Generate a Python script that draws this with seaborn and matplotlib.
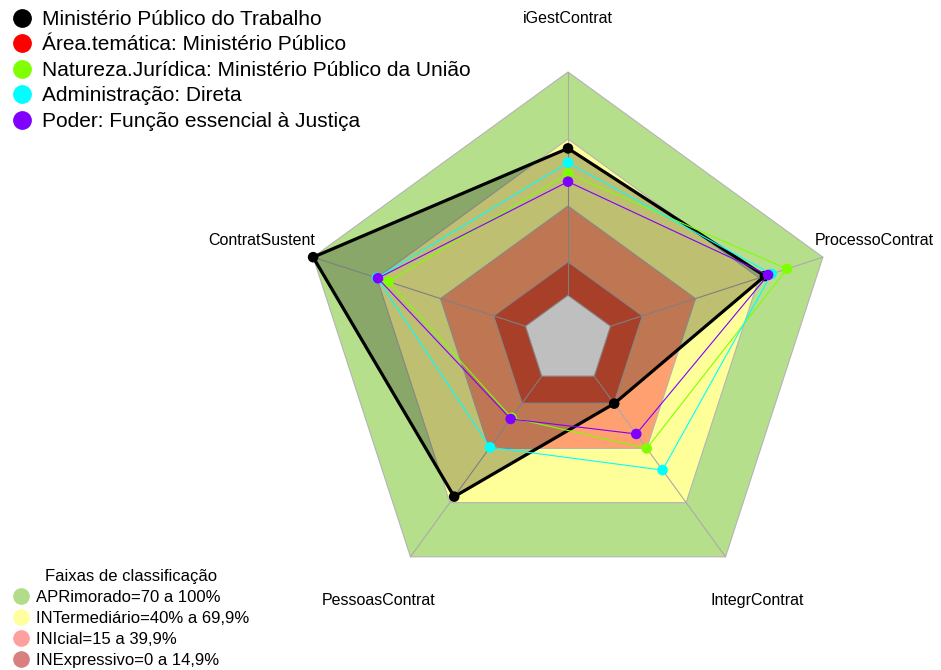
import numpy as np
import pandas as pd
import matplotlib
matplotlib.use("Agg")
import matplotlib.pyplot as plt
from matplotlib.lines import Line2D
import seaborn as sns

# eixos do radar (sentido horario a partir do topo)
EIXOS = ["iGestContrat", "ProcessoContrat", "IntegrContrat", "PessoasContrat", "ContratSustent"]

SERIES = ["Ministério Público do Trabalho",
          "Área.temática: Ministério Público",
          "Natureza.Jurídica: Ministério Público da União",
          "Administração: Direta",
          "Poder: Função essencial à Justiça"]
CORES = ["#000000", "#ff0000", "#80ff00", "#00ffff", "#8000ff"]

# valores (%)
mpt = [65.8, 72.7, 15.2, 66.7, 100.0]
area_tematica = [np.nan, np.nan, np.nan, np.nan, np.nan]
natureza = [54.6, 83.1, 40.0, 23.0, 64.5]
administracao = [59.4, 75.8, 52.0, 39.4, 70.0]
poder = [50.9, 74.2, 32.0, 23.7, 69.5]

FAIXAS = ["APRimorado=70 a 100%", "INTermediário=40% a 69,9%",
          "INIcial=15 a 39,9%", "INExpressivo=0 a 14,9%"]
FAIXAS_LIM = [100, 70, 40, 15]
FAIXAS_CORES = ["#b6df8c", "#ffff99", "#ffa070", "#e05538"]
FAIXAS_LEG_CORES = ["#b2dc8a", "#ffffa0", "#ffa0a0", "#d88080"]

angulos = np.pi / 2 - 2 * np.pi * np.arange(len(EIXOS)) / len(EIXOS)


def raio(v):
    # centro deslocado: 0% fica a 1/6 do raio
    return (np.asarray(v, dtype=float) + 20) / 120


def xy(valores):
    r = raio(valores)
    return r * np.cos(angulos), r * np.sin(angulos)


def fechar(a):
    return np.append(a, a[0])


sns.set_theme(style="white")
plt.rcParams["font.family"] = ["Liberation Sans", "DejaVu Sans"]
plt.rcParams["text.color"] = "black"

fig = plt.figure(figsize=(9.41, 6.70), dpi=100)
ax = fig.add_axes([0, 0, 1, 1])
ax.axis("off")

# faixas de classificacao
for lim, cor in zip(FAIXAS_LIM + [0], FAIXAS_CORES + ["#ffffff"]):
    x, y = xy([lim] * len(EIXOS))
    ax.fill(fechar(x), fechar(y), facecolor=cor, edgecolor="#b4b4b4", lw=0.8, zorder=1)

# raios
x0, y0 = xy([0] * len(EIXOS))
x1, y1 = xy([100] * len(EIXOS))
for i in range(len(EIXOS)):
    ax.plot([x0[i], x1[i]], [y0[i], y1[i]], color="#aaaaaa", lw=0.8, zorder=2)

# series
dados = [mpt, area_tematica, natureza, administracao, poder]
for k, (nome, cor, vals) in enumerate(zip(SERIES, CORES, dados)):
    x, y = xy(vals)
    z = 3 + k * 3
    if k == 0:
        ax.fill(fechar(x), fechar(y), facecolor="black", alpha=0.25, lw=0, zorder=z)
        lw = 2.3
    else:
        lw = 0.8
    ax.plot(fechar(x), fechar(y), color=cor, lw=lw, zorder=z + 1)
    df = pd.DataFrame({"x": x, "y": y})
    sns.scatterplot(data=df, x="x", y="y", color=cor, s=58, edgecolor="none",
                    ax=ax, zorder=z + 2, legend=False)

# rotulos dos eixos
xl, yl = 1.2 * np.cos(angulos), 1.2 * np.sin(angulos)
for nome, xx, yy in zip(EIXOS, xl, yl):
    ax.text(xx, yy, nome, ha="center", va="center", fontsize=11.5, color="black")

ax.set_xlim(-568 / 268, 373 / 268)
ax.set_ylim(-330 / 268, 340 / 268)
ax.set_xlabel("")
ax.set_ylabel("")

# legenda das series
h1 = [Line2D([], [], marker="o", ls="", color=c, markersize=12.5) for c in CORES]
fig.legend(h1, SERIES, loc="upper left", bbox_to_anchor=(12 / 941, 1 - 10 / 670),
           frameon=False, fontsize=15, handlelength=1.0, handletextpad=0.42,
           labelspacing=0.31, borderpad=0, borderaxespad=0, labelcolor="black")

# legenda das faixas
h2 = [Line2D([], [], marker="o", ls="", color=c, markersize=11) for c in FAIXAS_LEG_CORES]
fig.legend(h2, FAIXAS, loc="lower left", bbox_to_anchor=(-1 / 941, -12 / 670),
           frameon=False, fontsize=12, handlelength=1.0, handletextpad=0.4,
           labelspacing=0.36, borderpad=0.85, borderaxespad=0, labelcolor="black",
           title="Faixas de classificação", title_fontsize=12)

fig.savefig("out.png", dpi=100)
plt.close(fig)
